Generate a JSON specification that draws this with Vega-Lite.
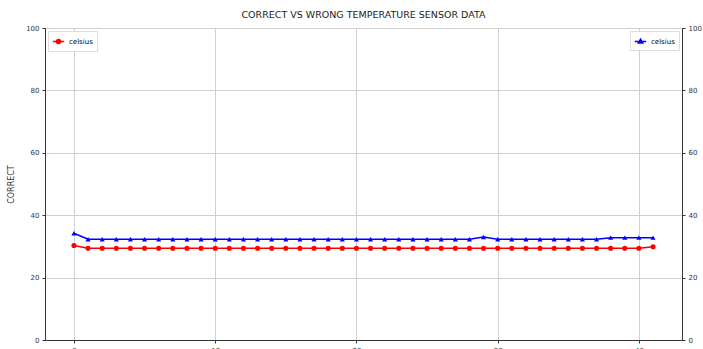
{
  "$schema": "https://vega.github.io/schema/vega-lite/v6.json",
  "autosize": {"type": "none"},
  "width": 637,
  "height": 312,
  "padding": {"left": 45, "top": 28, "right": 21, "bottom": 9},
  "title": {"text": "CORRECT VS WRONG TEMPERATURE SENSOR DATA", "fontSize": 9.5, "fontWeight": "normal", "font": "DejaVu Sans", "color": "#222", "offset": 5},
  "config": {
    "view": {"stroke": "#333", "strokeWidth": 1},
    "font": "DejaVu Sans",
    "axis": {"labelFontSize": 7, "labelColor": "#333", "tickColor": "#333", "domainColor": "#333", "gridColor": "#d0d0d0", "tickSize": 3, "labelPadding": 3, "titleFontSize": 8, "titleFontWeight": "normal", "titleColor": "#333"}
  },
  "data": {"values": [
    {"x":0,"c":30.3,"w":34.2},{"x":1,"c":29.4,"w":32.3},{"x":2,"c":29.4,"w":32.3},{"x":3,"c":29.4,"w":32.3},
    {"x":4,"c":29.4,"w":32.3},{"x":5,"c":29.4,"w":32.3},{"x":6,"c":29.4,"w":32.3},{"x":7,"c":29.4,"w":32.3},
    {"x":8,"c":29.4,"w":32.3},{"x":9,"c":29.4,"w":32.3},{"x":10,"c":29.4,"w":32.3},{"x":11,"c":29.4,"w":32.3},
    {"x":12,"c":29.4,"w":32.3},{"x":13,"c":29.4,"w":32.3},{"x":14,"c":29.4,"w":32.3},{"x":15,"c":29.4,"w":32.3},
    {"x":16,"c":29.4,"w":32.3},{"x":17,"c":29.4,"w":32.3},{"x":18,"c":29.4,"w":32.3},{"x":19,"c":29.4,"w":32.3},
    {"x":20,"c":29.4,"w":32.3},{"x":21,"c":29.4,"w":32.3},{"x":22,"c":29.4,"w":32.3},{"x":23,"c":29.4,"w":32.3},
    {"x":24,"c":29.4,"w":32.3},{"x":25,"c":29.4,"w":32.3},{"x":26,"c":29.4,"w":32.3},{"x":27,"c":29.4,"w":32.3},
    {"x":28,"c":29.4,"w":32.3},{"x":29,"c":29.4,"w":33.0},{"x":30,"c":29.4,"w":32.3},{"x":31,"c":29.4,"w":32.3},
    {"x":32,"c":29.4,"w":32.3},{"x":33,"c":29.4,"w":32.3},{"x":34,"c":29.4,"w":32.3},{"x":35,"c":29.4,"w":32.3},
    {"x":36,"c":29.4,"w":32.3},{"x":37,"c":29.4,"w":32.3},{"x":38,"c":29.4,"w":32.8},{"x":39,"c":29.4,"w":32.8},
    {"x":40,"c":29.4,"w":32.8},{"x":41,"c":29.9,"w":32.8}
  ]},
  "transform": [{"calculate": "'celsius'", "as": "label"}],
  "encoding": {
    "x": {"field": "x", "type": "quantitative", "scale": {"domain": [-2.05, 43.05], "nice": false, "zero": false},
          "axis": {"values": [0, 10, 20, 30, 40], "title": null, "format": "d"}}
  },
  "layer": [
    {
      "mark": {"type": "line", "strokeWidth": 1.5, "point": {"shape": "circle", "filled": true, "size": 26}},
      "encoding": {
        "y": {"field": "c", "type": "quantitative", "scale": {"domain": [0, 100], "nice": false},
              "axis": {"orient": "left", "values": [0, 20, 40, 60, 80, 100], "title": "CORRECT", "titlePadding": 10}},
        "color": {"field": "label", "type": "nominal", "scale": {"range": ["red"]},
                  "legend": {"orient": "top-left", "title": null, "offset": 3, "padding": 4, "strokeColor": "#ddd", "fillColor": "white", "labelFontSize": 7, "symbolType": "M-1,0H1M-0.35,0A0.35,0.35 0 1,0 0.35,0A0.35,0.35 0 1,0 -0.35,0", "symbolSize": 130, "symbolStrokeWidth": 1.5, "symbolFillColor": "red"}}
      }
    },
    {
      "mark": {"type": "line", "strokeWidth": 1.5, "point": {"shape": "triangle-up", "filled": true, "size": 26}},
      "encoding": {
        "y": {"field": "w", "type": "quantitative", "scale": {"domain": [0, 100], "nice": false},
              "axis": {"orient": "right", "values": [0, 20, 40, 60, 80, 100], "title": null, "grid": false}},
        "color": {"field": "label", "type": "nominal", "scale": {"range": ["blue"]},
                  "legend": {"orient": "top-right", "title": null, "offset": 3, "padding": 4, "strokeColor": "#ddd", "fillColor": "white", "labelFontSize": 7, "symbolType": "M-1,0H1M0,-0.4L0.38,0.25L-0.38,0.25Z", "symbolSize": 130, "symbolStrokeWidth": 1.5, "symbolFillColor": "blue"}}
      }
    }
  ],
  "resolve": {"scale": {"y": "independent", "color": "independent"}, "legend": {"color": "independent"}}
}
